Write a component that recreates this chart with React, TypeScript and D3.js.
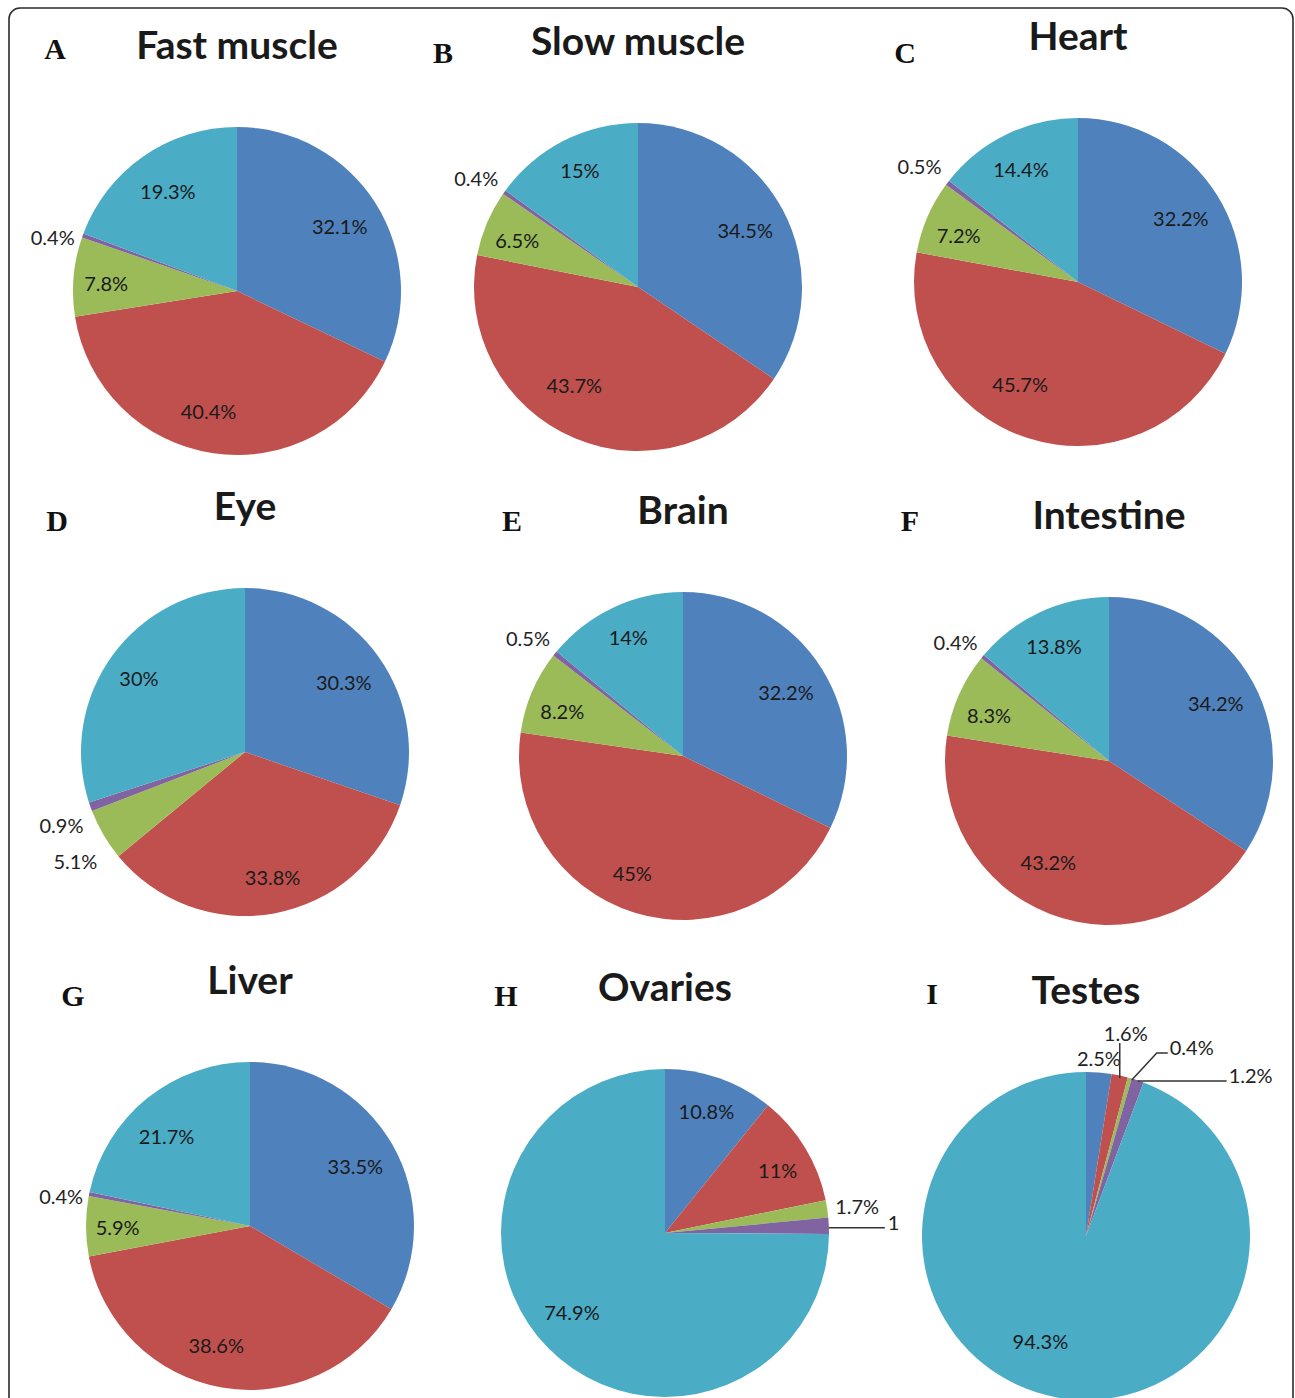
import React from 'react';
import * as d3 from 'd3';

// Share of transcripts per expression class, in percent, for each tissue
const tissueNames = ['Fast muscle', 'Slow muscle', 'Heart', 'Eye', 'Brain', 'Intestine', 'Liver', 'Ovaries', 'Testes'];
const panelLetters = ['A', 'B', 'C', 'D', 'E', 'F', 'G', 'H', 'I'];

const fastMuscle = [32.1, 40.4, 7.8, 0.4, 19.3];
const slowMuscle = [34.5, 43.7, 6.5, 0.4, 15];
const heart = [32.2, 45.7, 7.2, 0.5, 14.4];
const eye = [30.3, 33.8, 5.1, 0.9, 30];
const brain = [32.2, 45, 8.2, 0.5, 14];
const intestine = [34.2, 43.2, 8.3, 0.4, 13.8];
const liver = [33.5, 38.6, 5.9, 0.4, 21.7];
const ovaries = [10.8, 11, 1.7, 1.6, 74.9];
const testes = [2.5, 1.6, 0.4, 1.2, 94.3];

const tissueValues = [fastMuscle, slowMuscle, heart, eye, brain, intestine, liver, ovaries, testes];

const sliceColors = ['#4F81BD', '#C0504D', '#9BBB59', '#8064A2', '#4BACC6'];

// Panel placement: pie centre and panel letter position
const RADIUS = 164;
const panelLayout = [
  { cx: 237, cy: 291, lx: 55, ly: 59 },
  { cx: 638, cy: 287, lx: 443, ly: 63 },
  { cx: 1078, cy: 282, lx: 905, ly: 63 },
  { cx: 245, cy: 752, lx: 57, ly: 531 },
  { cx: 683, cy: 756, lx: 512, ly: 531 },
  { cx: 1109, cy: 761, lx: 910, ly: 531 },
  { cx: 250, cy: 1226, lx: 73, ly: 1006 },
  { cx: 665, cy: 1233, lx: 506, ly: 1006, clipRight: 899 },
  { cx: 1086, cy: 1236, lx: 932, ly: 1004 },
];

type OutsideLabel = { dx: number; dy: number; anchor: string; leader?: [number, number][] };

// Labels placed outside the pie, offset from the slice's outer edge point
const outsideLabels: Record<number, OutsideLabel>[] = [
  { 3: { dx: -8, dy: 2, anchor: 'end' } },
  { 3: { dx: -6, dy: -14, anchor: 'end' } },
  { 3: { dx: -6, dy: -17, anchor: 'end' } },
  { 2: { dx: -6, dy: 26, anchor: 'end' }, 3: { dx: -7, dy: 18, anchor: 'end' } },
  { 3: { dx: -5, dy: -16, anchor: 'end' } },
  { 3: { dx: -5, dy: -15, anchor: 'end' } },
  { 3: { dx: -6, dy: 2, anchor: 'end' } },
  {
    2: { dx: 8, dy: -3, anchor: 'start' },
    3: { dx: 59, dy: -4, anchor: 'start', leader: [[0, 2], [56, 2]] },
  },
  {
    0: { dx: 0, dy: -15, anchor: 'middle' },
    1: { dx: 6, dy: -43, anchor: 'middle', leader: [[0, 2.5], [0, -32.5]] },
    2: { dx: 40, dy: -31, anchor: 'start', leader: [[2, 2], [27, -25], [38, -25]] },
    3: { dx: 91, dy: -5, anchor: 'start', leader: [[0, 0.6], [89, 0.6]] },
  },
];

// Small shifts of the in-slice labels away from the plain centroid position
const insideNudges: Record<number, [number, number]>[] = [
  { 1: [-11, 0], 2: [-10, 3] },
  { 1: [-17, -14], 2: [-9, 0], 4: [-3, -9] },
  { 1: [-20, -13], 2: [-8, 1], 4: [-4, -4] },
  { 1: [6, 6], 4: [-8, -3] },
  { 1: [-15, 1], 2: [-9, 2], 4: [-3, -9] },
  { 1: [-17, -12], 2: [-9, 3], 4: [-4, -5] },
  { 1: [-13, -1], 2: [-11, 1], 4: [-7, 4] },
  { 0: [1, -8], 1: [9, 0], 4: [-7, -7] },
  { 4: [-24, -14] },
];

const LABEL_RATIO = 0.74;
const SANS = 'Lato, "Open Sans", sans-serif';

function PiePanel({ index }: { index: number }) {
  const values = tissueValues[index];
  const { cx, cy, lx, ly, clipRight } = panelLayout[index] as any;
  const pie = d3.pie<number>().sort(null).value((d) => d);
  const arcs = pie(values);
  const arc = d3.arc<d3.PieArcDatum<number>>().innerRadius(0).outerRadius(RADIUS);
  const labelArc = d3
    .arc<d3.PieArcDatum<number>>()
    .innerRadius(RADIUS * LABEL_RATIO)
    .outerRadius(RADIUS * LABEL_RATIO);
  const edgePoint = (a: d3.PieArcDatum<number>) => {
    const m = (a.startAngle + a.endAngle) / 2;
    return [RADIUS * Math.sin(m), -RADIUS * Math.cos(m)];
  };
  const outside = outsideLabels[index];
  const nudges = insideNudges[index];
  const clipId = `clip-${index}`;

  return (
    <g>
      {clipRight !== undefined && (
        <defs>
          <clipPath id={clipId}>
            <rect x={-cx} y={-cy} width={clipRight} height={1398} />
          </clipPath>
        </defs>
      )}
      <text
        x={lx}
        y={ly}
        textAnchor="middle"
        fontFamily='"Liberation Serif", "Times New Roman", serif'
        fontWeight="bold"
        fontSize={30}
        fill="#111"
      >
        {panelLetters[index]}
      </text>
      <text
        x={cx}
        y={cy - RADIUS - 68}
        textAnchor="middle"
        fontFamily={SANS}
        fontWeight="bold"
        fontSize={39}
        fill="#1a1a1a"
      >
        {tissueNames[index]}
      </text>
      <g transform={`translate(${cx},${cy})`}>
        {arcs.map((a, i) => (
          <path key={i} d={arc(a) || ''} fill={sliceColors[i]} />
        ))}
        <g clipPath={clipRight !== undefined ? `url(#${clipId})` : undefined}>
          {arcs.map((a, i) => {
            const label = `${a.data}%`;
            const o = outside[i];
            if (o) {
              const [ex, ey] = edgePoint(a);
              return (
                <g key={i}>
                  {o.leader && (
                    <polyline
                      points={o.leader.map(([px, py]) => `${ex + px},${ey + py}`).join(' ')}
                      fill="none"
                      stroke="#333"
                      strokeWidth={1.5}
                    />
                  )}
                  <text
                    x={ex + o.dx}
                    y={ey + o.dy}
                    textAnchor={o.anchor}
                    dominantBaseline="central"
                    fontFamily={SANS}
                    fontSize={20}
                    fill="#222"
                  >
                    {label}
                  </text>
                </g>
              );
            }
            const [tx, ty] = labelArc.centroid(a);
            const [nx, ny] = nudges[i] || [0, 0];
            return (
              <text
                key={i}
                x={tx + nx}
                y={ty + ny}
                textAnchor="middle"
                dominantBaseline="central"
                fontFamily={SANS}
                fontSize={20}
                fill="#1a1a1a"
              >
                {label}
              </text>
            );
          })}
        </g>
      </g>
    </g>
  );
}

export default function App() {
  return (
    <svg
      width={1295}
      height={1398}
      viewBox="0 0 1295 1398"
      style={{ position: 'absolute', left: 0, top: 0, background: '#fff' }}
    >
      <rect x={9} y={8} width={1284} height={1440} rx={11} ry={11} fill="#fff" stroke="#2b2b2b" strokeWidth={1.6} />
      {tissueNames.map((_, i) => (
        <PiePanel key={i} index={i} />
      ))}
    </svg>
  );
}
